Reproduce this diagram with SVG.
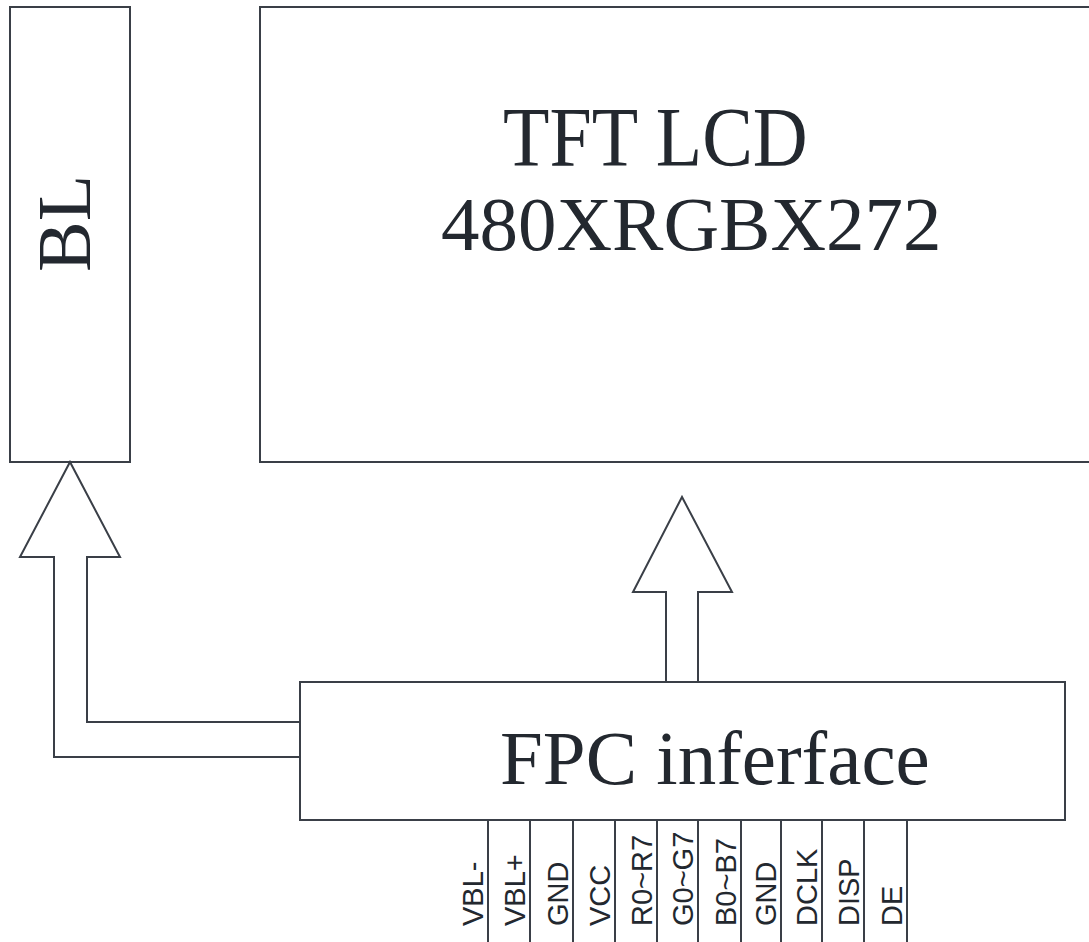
<svg xmlns="http://www.w3.org/2000/svg" width="1089" height="942" viewBox="0 0 1089 942">
<style>
.box{fill:none;stroke:#3a3f47;stroke-width:2}
.ln{fill:none;stroke:#3a3f47;stroke-width:2;stroke-linejoin:miter}
.big{font-family:"Liberation Serif","Times New Roman",serif;fill:#23282f}
.pin{font-family:"Liberation Sans",Arial,sans-serif;font-size:29px;fill:#23282f}
</style>
<rect width="1089" height="942" fill="#ffffff"/>
<g id="bl">
<rect class="box" x="10" y="7" width="120" height="455"/>
<text class="big" font-size="76" transform="translate(90,272) rotate(-90)">BL</text>
</g>
<g id="tft">
<rect class="box" x="260" y="7" width="840" height="455"/>
<text class="big" font-size="76" transform="translate(503,166) scale(1,1.1)">TFT LCD</text>
<text class="big" font-size="77" x="441" y="250">480XRGBX272</text>
</g>
<g id="fpc">
<rect class="box" x="300" y="682" width="765" height="138"/>
<text class="big" font-size="77" x="500" y="784">FPC inferface</text>
</g>
<g id="pins">
<g class="ln">
<line x1="488" y1="820" x2="488" y2="942"/>
<line x1="530" y1="820" x2="530" y2="942"/>
<line x1="573" y1="820" x2="573" y2="942"/>
<line x1="615" y1="820" x2="615" y2="942"/>
<line x1="657" y1="820" x2="657" y2="942"/>
<line x1="698" y1="820" x2="698" y2="942"/>
<line x1="741" y1="820" x2="741" y2="942"/>
<line x1="781" y1="820" x2="781" y2="942"/>
<line x1="822" y1="820" x2="822" y2="942"/>
<line x1="864" y1="820" x2="864" y2="942"/>
<line x1="907" y1="820" x2="907" y2="942"/>
</g>
<text class="pin" transform="translate(483,926) rotate(-90)">VBL-</text>
<text class="pin" transform="translate(525,926) rotate(-90)">VBL+</text>
<text class="pin" transform="translate(568,926) rotate(-90)">GND</text>
<text class="pin" transform="translate(610,926) rotate(-90)">VCC</text>
<text class="pin" transform="translate(652,926) rotate(-90)">R0~R7</text>
<text class="pin" transform="translate(693,926) rotate(-90)">G0~G7</text>
<text class="pin" transform="translate(736,926) rotate(-90)">B0~B7</text>
<text class="pin" transform="translate(776,926) rotate(-90)">GND</text>
<text class="pin" transform="translate(817,926) rotate(-90)">DCLK</text>
<text class="pin" transform="translate(859,926) rotate(-90)">DISP</text>
<text class="pin" transform="translate(902,926) rotate(-90)">DE</text>
</g>
<g id="connectors">
<polyline class="ln" points="300,757 54,757 54,557 20,557 70,462 120,557 87,557 87,722 300,722"/>
<polyline class="ln" points="666,682 666,592 633,592 682,497 732,592 698,592 698,682"/>
</g>
</svg>
